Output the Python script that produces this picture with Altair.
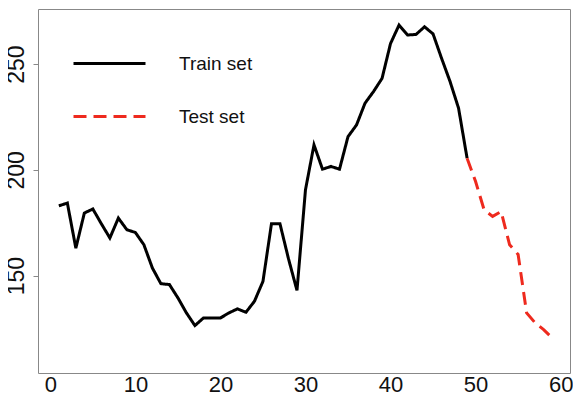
import altair as alt
import pandas as pd

train_x = list(range(1, 50))
train_y = [183, 184.3, 163, 179.6, 181.5, 174.5, 167.8, 177.2, 171.7, 170.4,
           164.6, 153.6, 146.2, 145.8, 139.5, 132.4, 126.4, 130, 130, 130,
           132.4, 134.3, 132.7, 137.9, 147.3, 174.5, 174.5, 158, 143, 190.6,
           211.8, 200.3, 201.6, 200.3, 215.7, 221.2, 231.5, 237, 243.2, 259.7,
           268.4, 263.7, 264, 267.6, 264.2, 252.7, 241.7, 229.1, 205.5]
test_x = list(range(49, 60))
test_y = [205.5, 194.5, 181.1, 178, 180.3, 164.6, 160, 132.4, 127.7, 124.5, 120.6]

series_names = ["Train set", "Test set"]
series_colors = ["#000000", "#ee2a1e"]

df = pd.DataFrame({
    "x": train_x + test_x,
    "y": train_y + test_y,
    "series": [series_names[0]] * len(train_x) + [series_names[1]] * len(test_x),
})

FONT = "Liberation Sans"

legend_opts = dict(title=None, orient="none", legendX=34, legendY=17,
                   symbolType="stroke", symbolSize=5184, symbolStrokeWidth=3,
                   labelFontSize=19, labelFont=FONT, labelColor="#111",
                   labelOffset=32, rowPadding=5)

chart = alt.Chart(df).mark_line(strokeWidth=3).encode(
    x=alt.X("x:Q", scale=alt.Scale(domain=[-1.45, 61.1], nice=False, zero=False),
            axis=alt.Axis(values=[0, 10, 20, 30, 40, 50, 60], title=None, grid=False,
                          domain=False, ticks=False, labelPadding=1, labelFontSize=22,
                          labelFont=FONT, labelColor="#111", labelBaseline="top")),
    y=alt.Y("y:Q", scale=alt.Scale(domain=[104, 276], nice=False, zero=False),
            axis=alt.Axis(values=[150, 200, 250], title=None, grid=False, domain=False,
                          ticks=True, tickSize=5, tickColor="#888", labelAngle=270,
                          labelAlign="center", labelBaseline="bottom", labelPadding=5,
                          labelFontSize=23, labelFont=FONT, labelColor="#111")),
    color=alt.Color("series:N", scale=alt.Scale(domain=series_names, range=series_colors),
                    legend=alt.Legend(**legend_opts)),
    strokeDash=alt.StrokeDash("series:N",
                              scale=alt.Scale(domain=series_names, range=[[1, 0], [13, 7]]),
                              legend=alt.Legend(**legend_opts)),
).properties(
    width=532, height=364,
    autosize=alt.AutoSizeParams(type="none"),
    padding={"left": 30, "top": 1, "right": 3, "bottom": 21},
).configure_view(stroke="#888", strokeWidth=1)

chart.save("out.html", embed_options={"renderer": "svg", "actions": False})
